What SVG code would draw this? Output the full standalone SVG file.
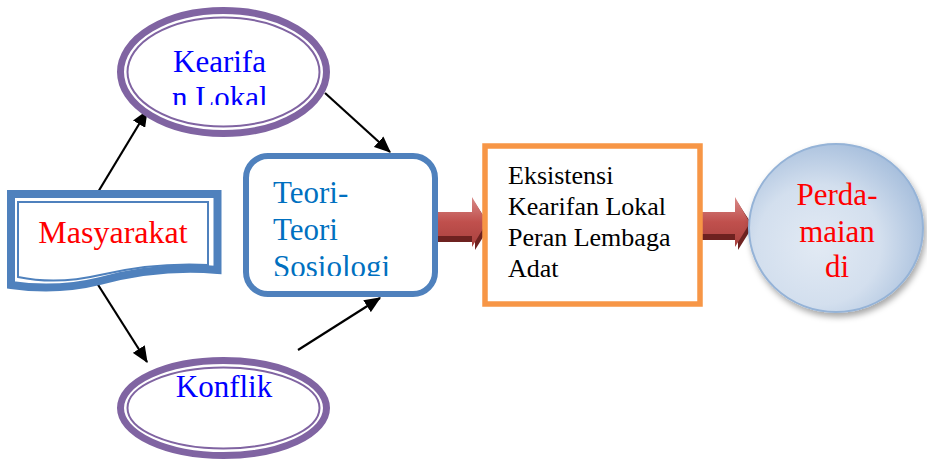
<svg xmlns="http://www.w3.org/2000/svg" width="927" height="461" viewBox="0 0 927 461">
  <style>
    text { font-family: "Liberation Serif", "Times New Roman", "DejaVu Serif", serif; }
    .purple-thick { fill: none; stroke: #8064A2; stroke-width: 7; }
    .purple-thin { fill: none; stroke: #8064A2; stroke-width: 2; }
    .blue { fill: none; stroke: #4F81BD; }
    .conn { stroke: #000; stroke-width: 2.2; fill: none; marker-end: url(#ah); }
    .blk { fill: url(#redGrad); }
    .blk-shadow { fill: #6E2220; }
  </style>
  <defs>
    <marker id="ah" viewBox="0 0 14 12" refX="13" refY="6" markerWidth="7.5" markerHeight="6.5" markerUnits="strokeWidth" orient="auto">
      <path d="M0,0 L14,6 L0,12 Z" fill="#000"/>
    </marker>
    <linearGradient id="redGrad" x1="0" y1="0" x2="0" y2="1">
      <stop offset="0" stop-color="#D88A88"/>
      <stop offset="0.5" stop-color="#C0504D"/>
      <stop offset="1" stop-color="#A8413E"/>
    </linearGradient>
    <radialGradient id="circGrad" cx="0.4" cy="0.6" r="0.65">
      <stop offset="0" stop-color="#E2EAF4"/>
      <stop offset="0.55" stop-color="#D3DFEE"/>
      <stop offset="1" stop-color="#A6BEDC"/>
    </radialGradient>
    <filter id="shadow" x="-20%" y="-20%" width="140%" height="140%">
      <feDropShadow dx="2" dy="4" stdDeviation="3" flood-color="#000" flood-opacity="0.35"/>
    </filter>
    <clipPath id="clipKear"><rect x="110" y="30" width="220" height="75"/></clipPath>
    <clipPath id="clipTeori"><rect x="250" y="170" width="180" height="106"/></clipPath>
  </defs>

  <g id="connectors">
    <line class="conn" x1="95" y1="197" x2="147" y2="111"/>
    <line class="conn" x1="325" y1="93" x2="390" y2="152"/>
    <line class="conn" x1="95" y1="280" x2="147" y2="362"/>
    <line class="conn" x1="298" y1="350" x2="380" y2="298"/>
    <g id="block-arrow-1">
      <path class="blk-shadow" d="M438,220 H475 V203 L490,226 L475,250 V242 H438 Z"/>
      <path class="blk" d="M435,212 H472 V197 L487,222 L472,247 V236 H435 Z"/>
    </g>
    <g id="block-arrow-2">
      <path class="blk-shadow" d="M702,220 H738 V203 L753,226 L738,250 V240 H702 Z"/>
      <path class="blk" d="M699,212 H735 V197 L750,223 L735,247 V234 H699 Z"/>
    </g>
  </g>

  <g id="masyarakat">
    <path class="blue" stroke-width="8" fill="#fff" d="M11,194 H217.5 V270 C170,266 130,273 100,281 C68,289 38,289 11,285 Z"/>
    <path class="blue" stroke-width="2" d="M18,202 H208 V265 C168,263 130,268 100,275 C70,282 42,282 18,277 Z"/>
    <text x="113" y="243" font-size="32" fill="#FF0000" text-anchor="middle">Masyarakat</text>
  </g>

  <g id="kearifan">
    <ellipse cx="223.5" cy="72" rx="103" ry="61.5" fill="#fff" class="purple-thick"/>
    <ellipse cx="223.5" cy="72" rx="96" ry="54.5" class="purple-thin"/>
    <g clip-path="url(#clipKear)">
      <text font-size="31" fill="#0000FF"><tspan x="173" y="72">Kearifa</tspan><tspan x="172" y="108">n Lokal</tspan></text>
    </g>
  </g>

  <g id="konflik">
    <ellipse cx="223.5" cy="408" rx="103" ry="47.5" fill="#fff" class="purple-thick"/>
    <ellipse cx="223.5" cy="408" rx="96" ry="40.5" class="purple-thin"/>
    <text x="224" y="397" font-size="31" fill="#0000FF" text-anchor="middle">Konflik</text>
  </g>

  <g id="teori">
    <rect x="246" y="156" width="189" height="138" rx="22" fill="#fff" class="blue" stroke-width="6"/>
    <g clip-path="url(#clipTeori)">
      <text font-size="31" fill="#0070C0"><tspan x="273" y="203">Teori-</tspan><tspan x="273" y="240">Teori</tspan><tspan x="273" y="277">Sosiologi</tspan></text>
    </g>
  </g>

  <g id="eksistensi">
    <rect x="485" y="146" width="215" height="158" fill="#fff" stroke="#F79646" stroke-width="5.5"/>
    <text font-size="26" fill="#000"><tspan x="508" y="184">Eksistensi</tspan><tspan x="508" y="215">Kearifan Lokal</tspan><tspan x="508" y="246">Peran Lembaga</tspan><tspan x="508" y="277">Adat</tspan></text>
  </g>

  <g id="perdamaian">
    <ellipse cx="836" cy="228" rx="87" ry="84" fill="url(#circGrad)" stroke="#95B3D7" stroke-width="2" filter="url(#shadow)"/>
    <text font-size="31" fill="#FF0000" text-anchor="middle"><tspan x="837" y="205">Perda-</tspan><tspan x="837" y="242">maian</tspan><tspan x="837" y="277">di</tspan></text>
  </g>
</svg>
